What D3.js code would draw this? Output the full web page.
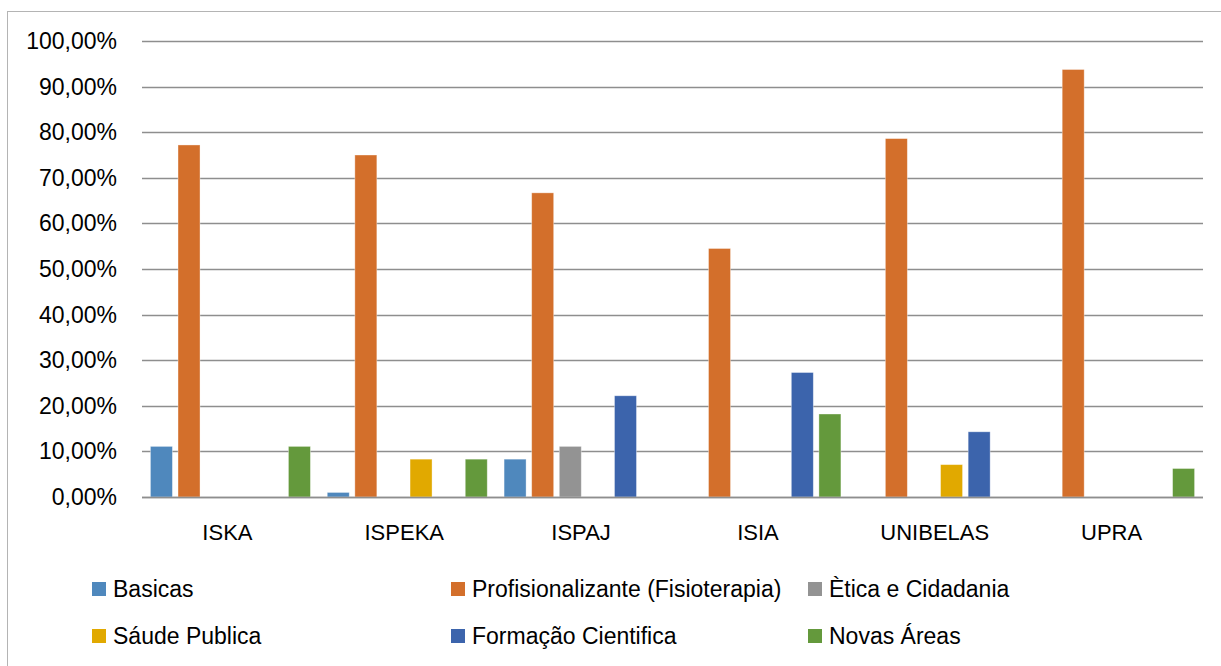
<!DOCTYPE html>
<html>
<head>
<meta charset="utf-8">
<script src="https://cdn.jsdelivr.net/npm/d3@7/dist/d3.min.js"></script>
<style>
  html, body { margin: 0; padding: 0; background: #fff; }
  svg text { font-family: "Liberation Sans", Arial, sans-serif; fill: #000; }
</style>
</head>
<body>
<svg id="chart" width="1221" height="666"></svg>
<script>
const categories = ["ISKA", "ISPEKA", "ISPAJ", "ISIA", "UNIBELAS", "UPRA"];
const seriesNames = ["Basicas", "Profisionalizante (Fisioterapia)", "Ètica e Cidadania", "Sáude Publica", "Formação Cientifica", "Novas Áreas"];
const seriesColors = ["#4f88bd", "#d36f2b", "#939393", "#e1a900", "#3c64ac", "#64993c"];
// values in fraction (per category, per series)
const basicas       = [0.111, 0.010, 0.083, 0,     0,     0];
const profissional  = [0.772, 0.750, 0.667, 0.545, 0.786, 0.9375];
const etica         = [0,     0,     0.111, 0,     0,     0];
const saude         = [0,     0.083, 0,     0,     0.071, 0];
const formacao      = [0,     0,     0.222, 0.273, 0.143, 0];
const novas         = [0.111, 0.083, 0,     0.182, 0,     0.0625];
const yTicks = [0, 0.1, 0.2, 0.3, 0.4, 0.5, 0.6, 0.7, 0.8, 0.9, 1.0];

const seriesValues = [basicas, profissional, etica, saude, formacao, novas];

const svg = d3.select("#chart");

// chart border
svg.append("rect").attr("x", 7.5).attr("y", 11.5).attr("width", 1240).attr("height", 700)
  .attr("fill", "none").attr("stroke", "#b4b4b4").attr("stroke-width", 1);

const plotLeft = 142, plotRight = 1203, plotTop = 41, plotBottom = 497;

const x0 = d3.scaleBand().domain(categories).range([plotLeft, plotRight]).padding(0);
const groupW = 160;
const x1 = d3.scaleBand().domain(seriesNames)
  .range([(x0.bandwidth() - groupW) / 2, (x0.bandwidth() + groupW) / 2])
  .paddingInner(0.203).paddingOuter(0);
const y = d3.scaleLinear().domain([0, 1]).range([plotBottom, plotTop]);

// gridlines
svg.append("g").selectAll("line").data(yTicks).join("line")
  .attr("x1", plotLeft).attr("x2", plotRight)
  .attr("y1", d => Math.round(y(d)) + 0.5).attr("y2", d => Math.round(y(d)) + 0.5)
  .attr("stroke", "#8e8e8e").attr("stroke-width", 1.3);

// y axis labels
const fmt = d => (d * 100).toFixed(2).replace(".", ",") + "%";
svg.append("g").selectAll("text").data(yTicks).join("text")
  .attr("x", 117).attr("y", d => y(d) + 8)
  .attr("text-anchor", "end").style("font-size", "23px")
  .text(fmt);

// bars
const groups = svg.append("g").selectAll("g").data(categories).join("g")
  .attr("transform", c => `translate(${x0(c)},0)`);
groups.selectAll("rect")
  .data((c, ci) => seriesNames.map((s, si) => ({ s, si, v: seriesValues[si][ci] })).filter(d => d.v > 0))
  .join("rect")
  .attr("x", d => x1(d.s))
  .attr("width", x1.bandwidth())
  .attr("y", d => y(d.v))
  .attr("height", d => plotBottom - y(d.v))
  .attr("fill", d => seriesColors[d.si])
  .attr("stroke", "#ffffff").attr("stroke-opacity", 0.45).attr("stroke-width", 0.8);

// baseline redraw on top
svg.append("line").attr("x1", plotLeft).attr("x2", plotRight)
  .attr("y1", Math.round(y(0)) + 0.5).attr("y2", Math.round(y(0)) + 0.5)
  .attr("stroke", "#8e8e8e").attr("stroke-width", 1.3);

// category labels
svg.append("g").selectAll("text").data(categories).join("text")
  .attr("x", c => x0(c) + x0.bandwidth() / 2 - 3)
  .attr("y", 540)
  .attr("text-anchor", "middle").style("font-size", "22px")
  .text(c => c);

// legend
const legendCols = [92, 451, 808];
const legendRows = [582, 629];
const legend = svg.append("g").selectAll("g").data(seriesNames).join("g")
  .attr("transform", (d, i) => `translate(${legendCols[i % 3]},${legendRows[Math.floor(i / 3)]})`);
legend.append("rect").attr("width", 14).attr("height", 14)
  .attr("fill", (d, i) => seriesColors[i]);
legend.append("text").attr("x", 21).attr("y", 14.5)
  .style("font-size", "23px").text(d => d);
</script>
</body>
</html>
